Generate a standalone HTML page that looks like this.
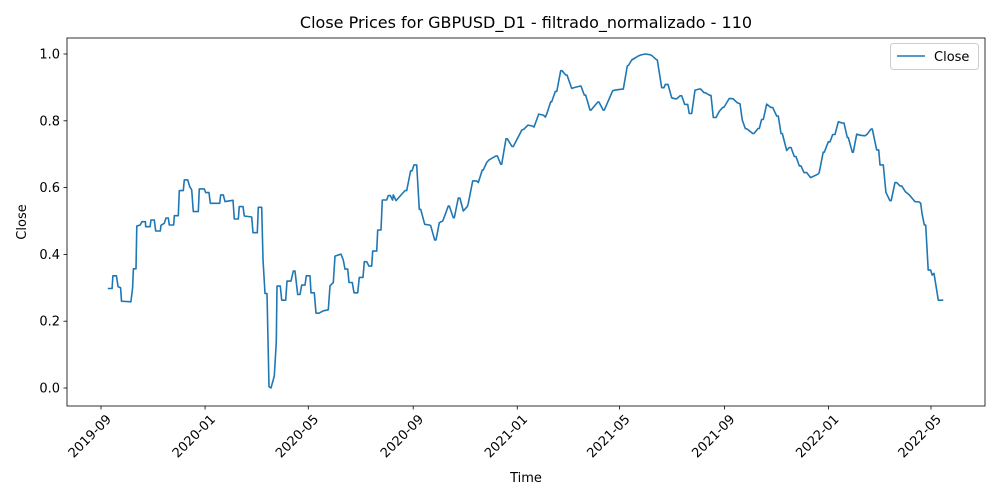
<!DOCTYPE html>
<html><head><meta charset="utf-8"><style>
html,body{margin:0;padding:0;background:#fff}
svg{display:block;font-family:"DejaVu Sans","Liberation Sans",sans-serif}
</style></head><body>
<svg id="chart" width="1000" height="500" viewBox="0 0 1000 500">
<rect x="0" y="0" width="1000" height="500" fill="#fff"/>
<text x="526" y="28" text-anchor="middle" font-size="16" fill="#000">Close Prices for GBPUSD_D1 - filtrado_normalizado - 110</text>
<g id="axes"></g>
<text x="526" y="482" text-anchor="middle" font-size="13">Time</text>
<text transform="translate(26,222) rotate(-90)" text-anchor="middle" font-size="13">Close</text>
<g>
<rect x="890.5" y="43.5" width="88" height="26" rx="3" fill="#fff" stroke="#ccc"/>
<line x1="897" y1="56" x2="925" y2="56" stroke="#1f77b4" stroke-width="1.6"/>
<text x="934" y="61" font-size="13">Close</text>
</g>
</svg>
<script>
const days=[8,13,14,18,20,23,24,35,37,38,41,42,46,48,52,52.4,57.4,58.6,62.5,64.1,69.5,70.3,74.2,76.2,78.9,80.1,85.2,85.9,90.6,91.8,96.5,97.7,101.6,104,106.3,108.2,114.1,115.2,121.1,122.7,126.6,128.1,139.2,140.3,143.4,145.4,154.7,156.3,161,162.1,166.5,168,176.7,178.2,183.2,184.4,188.4,189.9,192.3,194.6,197,199.3,203.2,205.5,206.3,210.2,211.8,216.5,218.1,222.7,225.4,227.4,230.6,233.3,235.3,239.2,240.7,245,246.2,250,252,255.6,260.6,266.5,268.5,272.3,274.3,281.4,284,286,289.2,290.7,294.6,296.6,300.9,302.8,307.1,308.7,311.5,314.2,317.3,318.5,323.2,324.4,328.2,329.8,334.9,336.8,339.1,341.9,342.7,345.8,356.4,358.4,363,364.6,366.9,370.1,373.1,374.8,379.5,384.9,386.5,391.2,392.7,396.6,400.6,402.1,407.1,408.3,413,414.2,418.9,420.8,424.7,429.4,430.6,435.7,440.4,442.3,447,448.2,452.2,454.9,463.1,464.6,468.6,469.7,474.8,476.3,481.8,483.4,493.2,495.9,500.6,506.1,507.6,513.1,518.5,520.9,522.5,527.2,528.4,532.6,534.3,538.9,540.4,544.8,546.3,551.8,555.7,561.5,562.7,566.6,568.2,573.3,574.4,582.3,583.8,588.8,590,599.9,602.6,611.6,612.3,617,618.6,622.2,624.1,629.9,632.7,637.7,643.6,645.9,650.6,652.2,657.3,660,661.6,664.7,669.1,673.3,674.9,678.8,680.8,684.3,687.8,689.6,692.5,696.4,701,703,706.9,708.4,713.9,715.1,717.8,721,724.8,728.8,730.3,736.6,741.2,745.9,749.1,751.8,755.3,757.7,764,765.5,770.2,771.7,774.5,776.4,780.4,785.1,787.4,792.1,794,797.2,798.7,803.9,806.9,808.9,812.8,814.8,818.6,820.6,824.1,827.3,831.9,840.5,842,846.7,847.9,852.6,854.6,857.8,860.5,864.4,869.5,871,874.9,876.1,880.8,881.9,885.9,889.8,895.6,898.3,902.7,904.2,909.4,911.7,913.2,917.1,920.2,924.9,926.4,930.8,932.8,936.7,938.7,942.9,947.6,954.2,959.3,961,962.5,965.2,966.8,969.8,972.7,974.5,976.5,981.6,987.4];
const closeValues=[.298,.298,.336,.336,.303,.30,.26,.258,.30,.357,.357,.485,.488,.498,.498,.483,.483,.503,.503,.47,.47,.487,.493,.509,.509,.488,.488,.516,.516,.591,.591,.623,.623,.603,.593,.528,.528,.596,.596,.585,.585,.553,.553,.578,.578,.558,.562,.506,.506,.543,.543,.515,.512,.465,.465,.541,.541,.385,.283,.283,.004,0,.036,.139,.305,.305,.263,.263,.32,.32,.35,.35,.28,.28,.308,.308,.336,.336,.285,.285,.224,.224,.231,.234,.306,.316,.395,.401,.383,.356,.356,.316,.316,.285,.285,.331,.331,.378,.378,.365,.365,.41,.41,.473,.473,.563,.563,.576,.576,.563,.578,.561,.591,.591,.65,.65,.668,.668,.535,.535,.49,.488,.486,.443,.443,.495,.5,.51,.545,.545,.51,.51,.569,.569,.53,.543,.553,.62,.62,.615,.653,.653,.675,.683,.695,.695,.67,.67,.746,.746,.723,.723,.772,.775,.787,.784,.781,.82,.817,.811,.82,.857,.857,.888,.888,.95,.95,.937,.937,.897,.9,.904,.904,.877,.877,.832,.832,.856,.856,.832,.832,.89,.892,.895,.895,.964,.967,.982,.985,.994,.997,1.0,.998,.995,.984,.982,.899,.899,.909,.909,.869,.866,.866,.875,.875,.849,.849,.822,.822,.892,.895,.895,.884,.884,.876,.876,.81,.81,.828,.84,.84,.867,.866,.854,.851,.802,.777,.775,.762,.762,.777,.777,.804,.804,.85,.84,.84,.814,.814,.762,.762,.711,.72,.72,.693,.693,.665,.665,.645,.645,.63,.64,.645,.706,.706,.737,.737,.759,.759,.797,.793,.793,.75,.75,.706,.706,.76,.757,.755,.76,.775,.775,.713,.713,.668,.668,.586,.561,.561,.615,.615,.605,.605,.588,.578,.558,.557,.553,.523,.488,.488,.353,.353,.338,.343,.263,.263,.27];
const yTicks=[0,0.2,0.4,0.6,0.8,1.0];
const yTickLabels=["0.0","0.2","0.4","0.6","0.8","1.0"];
const xTickDays=[0,122,243,366,488,608,731,853,973];
const xTickLabels=["2019-09","2020-01","2020-05","2020-09","2021-01","2021-05","2021-09","2022-01","2022-05"];

const NS="http://www.w3.org/2000/svg";
const L=67,R=985,T=38,B=406;
const xs=d=>101+d*0.853;
const ys=v=>388-v*334;
const g=document.getElementById('axes');
function mk(tag,attrs,parent){const e=document.createElementNS(NS,tag);for(const k in attrs)e.setAttribute(k,attrs[k]);(parent||g).appendChild(e);return e;}

yTicks.forEach((v,i)=>{
  const y=ys(v);
  const t=mk('line',{x1:L-3.5,x2:L,y1:y,y2:y,stroke:'#000','stroke-width':0.8});
  
  
  const tx=mk('text',{x:L-7,y:y+4.5,'text-anchor':'end','font-size':13});
  tx.textContent=yTickLabels[i];
  
  
});
xTickDays.forEach((d,i)=>{
  const x=xs(d);
  const t=mk('line',{x1:x,x2:x,y1:B,y2:B+3.5,stroke:'#000','stroke-width':0.8});
  
  
  const ax=x+11, ay=B+14;
  const tx=mk('text',{x:ax,y:ay,'text-anchor':'end','font-size':13,transform:`rotate(-45 ${ax} ${ay})`});
  tx.textContent=xTickLabels[i];
  
  
});
let dstr='';
days.forEach((d,i)=>{dstr+=(i?'L':'M')+xs(d).toFixed(1)+' '+ys(closeValues[i]).toFixed(1);});
const p=mk('path',{d:dstr,fill:'none',stroke:'#1f77b4','stroke-width':1.6,'stroke-linejoin':'round'});


const fr=mk('rect',{x:L,y:T,width:R-L,height:B-T,fill:'none',stroke:'#000','stroke-width':0.8});


</script>
</body></html>
